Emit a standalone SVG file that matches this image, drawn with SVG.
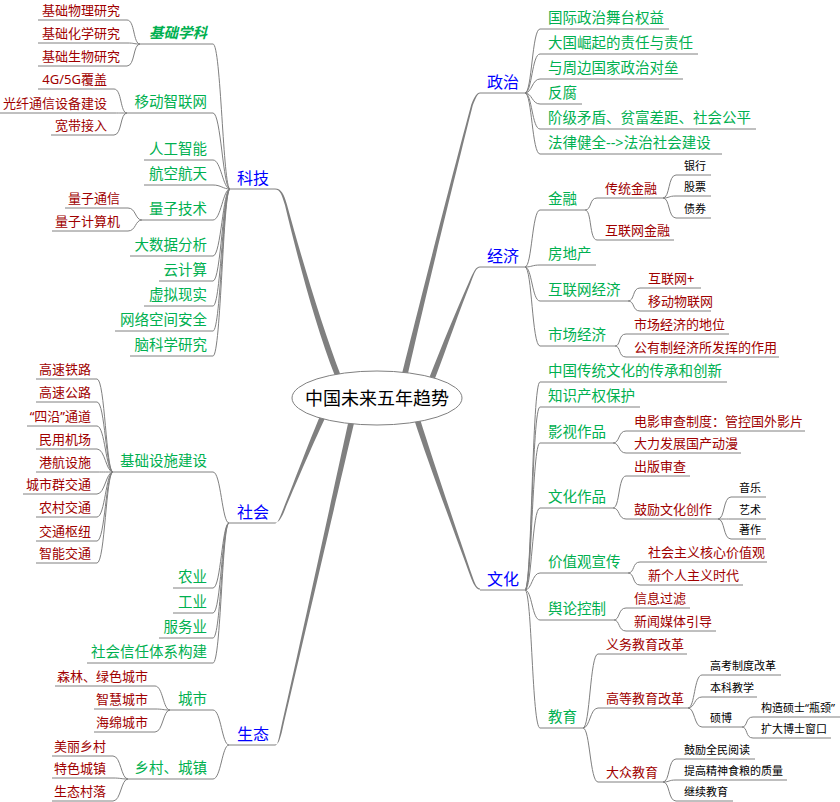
<svg xmlns="http://www.w3.org/2000/svg" width="840" height="802" viewBox="0 0 840 802">
<style>
text{font-family:"Noto Sans","Noto Sans CJK SC",sans-serif}
.c,.u{fill:none;stroke:#808080;stroke-width:1}
.m{fill:#808080}
.t0{font-size:18px;fill:#000;text-anchor:middle}
.t1{font-size:16px;fill:#0000ff}
.t2{font-size:14.5px;fill:#00b050}
.t3{font-size:13px;fill:#a00000}
.t4{font-size:11px;fill:#000}
.e{text-anchor:end}
.bi{font-style:italic;font-weight:bold}
</style>
<rect width="840" height="802" fill="#fff"/>
<g id="connectors">
<path class="m" d="M335,376C316.8,330 298,260 285,205.3C282,195.5 280.5,189.5 275,189.5L275,188.5C281.5,188.5 284,194.5 287,204.7C302,260 323.2,330 341,376Z"/>
<path class="m" d="M401,378C417.8,310 453.5,170 471.2,104.7C474.5,96.5 477,92.5 480,92.5L480,93.5C477.5,93.5 476,97.5 472.8,105.3C456.5,170 422.2,310 407,378Z"/>
<path class="m" d="M428,381C442.2,345 456.5,310 469.2,281.6C473.5,271.5 476,266.5 480,266.5L480,267.5C476.5,267.5 474.5,272.5 470.8,282.4C459.5,310 447.8,345 434,381Z"/>
<path class="m" d="M414,419C427.2,460 453.5,530 471.2,578.4C474.5,586.5 477,589.5 480,589.5L480,588.5C477.5,588.5 475.5,585.5 472.8,577.6C456.5,530 432.8,460 420,419Z"/>
<path class="m" d="M320,416C305.8,450 291,490 282.2,511.6C279.5,518.5 277.5,523.5 275,523.5L275,522.5C278.5,522.5 280.5,519.5 283.8,512.4C293,490 310.2,450 326,416Z"/>
<path class="m" d="M349,419C342.2,450 299,650 280.2,731.7C278.5,739.5 277.5,745.5 275,745.5L275,744.5C278.5,744.5 279.5,740.5 281.8,732.3C301,650 347.8,450 355,419Z"/>
<!-- 政治 -->
<path class="c" d="M525,93C532,93 532,29 540,29"/>
<path class="c" d="M525,93C532,93 532,54 540,54"/>
<path class="c" d="M525,93C532,93 532,79 540,79"/>
<path class="c" d="M525,93C532,93 532,104 540,104"/>
<path class="c" d="M525,93C532,93 532,129 540,129"/>
<path class="c" d="M525,93C532,93 532,154 540,154"/>
<!-- 经济 -->
<path class="c" d="M525,267C532,267 532,210 540,210"/>
<path class="c" d="M525,267C532,267 532,265 540,265"/>
<path class="c" d="M525,267C532,267 532,301 540,301"/>
<path class="c" d="M525,267C532,267 532,346 540,346"/>
<path class="c" d="M585,210C592,210 589,198 597,198"/>
<path class="c" d="M585,210C592,210 589,240 597,240"/>
<path class="c" d="M663,198C670,198 668,175 676,175"/>
<path class="c" d="M663,198C670,198 668,196 676,196"/>
<path class="c" d="M663,198C670,198 668,218 676,218"/>
<path class="c" d="M628,301C635,301 632,288 640,288"/>
<path class="c" d="M628,301C635,301 632,311 640,311"/>
<path class="c" d="M615,346C621,346 618,334 626,334"/>
<path class="c" d="M615,346C621,346 618,357 626,357"/>
<!-- 文化 -->
<path class="c" d="M525,590C532,590 532,382 540,382"/>
<path class="c" d="M525,590C532,590 532,407 540,407"/>
<path class="c" d="M525,590C532,590 532,443 540,443"/>
<path class="c" d="M525,590C532,590 532,508 540,508"/>
<path class="c" d="M525,590C532,590 532,573 540,573"/>
<path class="c" d="M525,590C532,590 532,620 540,620"/>
<path class="c" d="M525,590C532,590 532,728 540,728"/>
<path class="c" d="M613,443C620,443 618,431 626,431"/>
<path class="c" d="M613,443C620,443 618,453 626,453"/>
<path class="c" d="M613,508C620,508 618,476 626,476"/>
<path class="c" d="M613,508C620,508 618,519 626,519"/>
<path class="c" d="M718,519C725,519 723,497 731,497"/>
<path class="c" d="M718,519C725,519 723,519 731,519"/>
<path class="c" d="M718,519C725,519 723,539 731,539"/>
<path class="c" d="M628,573C635,573 632,562 640,562"/>
<path class="c" d="M628,573C635,573 632,585 640,585"/>
<path class="c" d="M614,620C620,620 618,608 626,608"/>
<path class="c" d="M614,620C620,620 618,631 626,631"/>
<path class="c" d="M583,728C590,728 590,654 598,654"/>
<path class="c" d="M583,728C590,728 590,708 598,708"/>
<path class="c" d="M583,728C590,728 590,782 598,782"/>
<path class="c" d="M688,708C695,708 694,675 702,675"/>
<path class="c" d="M688,708C695,708 694,697 702,697"/>
<path class="c" d="M688,708C695,708 694,727 702,727"/>
<path class="c" d="M742,727C748,727 745,717 753,717"/>
<path class="c" d="M742,727C748,727 745,738 753,738"/>
<path class="c" d="M663,782C670,782 668,759 676,759"/>
<path class="c" d="M663,782C670,782 668,780 676,780"/>
<path class="c" d="M663,782C670,782 668,801 676,801"/>
<!-- 科技 -->
<path class="c" d="M230,189C223,189 221,44 213,44"/>
<path class="c" d="M230,189C223,189 221,113 213,113"/>
<path class="c" d="M230,189C223,189 221,160 213,160"/>
<path class="c" d="M230,189C223,189 221,185 213,185"/>
<path class="c" d="M230,189C223,189 221,220 213,220"/>
<path class="c" d="M230,189C223,189 221,256 213,256"/>
<path class="c" d="M230,189C223,189 221,281 213,281"/>
<path class="c" d="M230,189C223,189 221,306 213,306"/>
<path class="c" d="M230,189C223,189 221,331 213,331"/>
<path class="c" d="M230,189C223,189 221,356 213,356"/>
<path class="c" d="M140,44C133,44 135,20 127,20"/>
<path class="c" d="M140,44C133,44 135,43 127,43"/>
<path class="c" d="M140,44C133,44 135,66 127,66"/>
<path class="c" d="M127,113C120,113 122,89 114,89"/>
<path class="c" d="M127,113C120,113 122,113 114,113"/>
<path class="c" d="M127,113C120,113 122,135 114,135"/>
<path class="c" d="M142,220C135,220 136,208 128,208"/>
<path class="c" d="M142,220C135,220 136,231 128,231"/>
<!-- 社会 -->
<path class="c" d="M229,523C222,523 221,472 213,472"/>
<path class="c" d="M229,523C222,523 221,588 213,588"/>
<path class="c" d="M229,523C222,523 221,613 213,613"/>
<path class="c" d="M229,523C222,523 221,638 213,638"/>
<path class="c" d="M229,523C222,523 221,663 213,663"/>
<path class="c" d="M113,472C106,472 105,379 97,379"/>
<path class="c" d="M113,472C106,472 105,402 97,402"/>
<path class="c" d="M113,472C106,472 105,426 97,426"/>
<path class="c" d="M113,472C106,472 105,449 97,449"/>
<path class="c" d="M113,472C106,472 105,472 97,472"/>
<path class="c" d="M113,472C106,472 105,494 97,494"/>
<path class="c" d="M113,472C106,472 105,517 97,517"/>
<path class="c" d="M113,472C106,472 105,541 97,541"/>
<path class="c" d="M113,472C106,472 105,563 97,563"/>
<!-- 生态 -->
<path class="c" d="M229,745C222,745 221,710 213,710"/>
<path class="c" d="M229,745C222,745 221,779 213,779"/>
<path class="c" d="M170,710C163,710 163,686 155,686"/>
<path class="c" d="M170,710C163,710 163,709 155,709"/>
<path class="c" d="M170,710C163,710 163,732 155,732"/>
<path class="c" d="M128,779C121,779 121,756 113,756"/>
<path class="c" d="M128,779C121,779 121,778 113,778"/>
<path class="c" d="M128,779C121,779 121,801 113,801"/>
</g>
<g id="root"><ellipse cx="377" cy="398" rx="85" ry="27" fill="#fff" stroke="#808080"/><text class="t0" x="377" y="405">中国未来五年趋势</text></g>
<!-- main -->
<g id="keji"><path class="u" d="M230,189H275"/><text class="t1" x="237" y="184">科技</text></g>
<g id="shehui"><path class="u" d="M229,523H275"/><text class="t1" x="237" y="518">社会</text></g>
<g id="shengtai"><path class="u" d="M229,745H275"/><text class="t1" x="237" y="740">生态</text></g>
<g id="zhengzhi"><path class="u" d="M480,93H525"/><text class="t1" x="487" y="88">政治</text></g>
<g id="jingji"><path class="u" d="M480,267H525"/><text class="t1" x="487" y="262">经济</text></g>
<g id="wenhua"><path class="u" d="M480,590H525"/><text class="t1" x="487" y="585">文化</text></g>
<!-- 政治 children -->
<g id="zz1"><path class="u" d="M540,29H669"/><text class="t2" x="548" y="23">国际政治舞台权益</text></g>
<g id="zz2"><path class="u" d="M540,54H698"/><text class="t2" x="548" y="48">大国崛起的责任与责任</text></g>
<g id="zz3"><path class="u" d="M540,79H683"/><text class="t2" x="548" y="73">与周边国家政治对垒</text></g>
<g id="zz4"><path class="u" d="M540,104H582"/><text class="t2" x="548" y="98">反腐</text></g>
<g id="zz5"><path class="u" d="M540,129H756"/><text class="t2" x="548" y="123">阶级矛盾、贫富差距、社会公平</text></g>
<g id="zz6"><path class="u" d="M540,154H722"/><text class="t2" x="548" y="148">法律健全--&gt;法治社会建设</text></g>
<!-- 经济 children -->
<g id="jj1"><path class="u" d="M540,210H585"/><text class="t2" x="548" y="204">金融</text></g>
<g id="jj11"><path class="u" d="M597,198H663"/><text class="t3" x="605" y="193">传统金融</text></g>
<g id="jj111"><path class="u" d="M676,175H711"/><text class="t4" x="684" y="170">银行</text></g>
<g id="jj112"><path class="u" d="M676,196H711"/><text class="t4" x="684" y="191">股票</text></g>
<g id="jj113"><path class="u" d="M676,218H711"/><text class="t4" x="684" y="213">债券</text></g>
<g id="jj12"><path class="u" d="M597,240H674"/><text class="t3" x="605" y="235">互联网金融</text></g>
<g id="jj2"><path class="u" d="M540,265H596"/><text class="t2" x="548" y="259">房地产</text></g>
<g id="jj3"><path class="u" d="M540,301H628"/><text class="t2" x="548" y="295">互联网经济</text></g>
<g id="jj31"><path class="u" d="M640,288H701"/><text class="t3" x="648" y="283">互联网+</text></g>
<g id="jj32"><path class="u" d="M640,311H711"/><text class="t3" x="648" y="306">移动物联网</text></g>
<g id="jj4"><path class="u" d="M540,346H615"/><text class="t2" x="548" y="340">市场经济</text></g>
<g id="jj41"><path class="u" d="M626,334H729"/><text class="t3" x="634" y="329">市场经济的地位</text></g>
<g id="jj42"><path class="u" d="M626,357H779"/><text class="t3" x="634" y="352">公有制经济所发挥的作用</text></g>
<!-- 文化 children -->
<g id="wh1"><path class="u" d="M540,382H727"/><text class="t2" x="548" y="376">中国传统文化的传承和创新</text></g>
<g id="wh2"><path class="u" d="M540,407H640"/><text class="t2" x="548" y="401">知识产权保护</text></g>
<g id="wh3"><path class="u" d="M540,443H613"/><text class="t2" x="548" y="437">影视作品</text></g>
<g id="wh31"><path class="u" d="M626,431H805"/><text class="t3" x="634" y="426">电影审查制度：管控国外影片</text></g>
<g id="wh32"><path class="u" d="M626,453H741"/><text class="t3" x="634" y="448">大力发展国产动漫</text></g>
<g id="wh4"><path class="u" d="M540,508H613"/><text class="t2" x="548" y="502">文化作品</text></g>
<g id="wh41"><path class="u" d="M626,476H690"/><text class="t3" x="634" y="471">出版审查</text></g>
<g id="wh42"><path class="u" d="M626,519H718"/><text class="t3" x="634" y="514">鼓励文化创作</text></g>
<g id="wh421"><path class="u" d="M731,497H766"/><text class="t4" x="739" y="492">音乐</text></g>
<g id="wh422"><path class="u" d="M731,519H766"/><text class="t4" x="739" y="514">艺术</text></g>
<g id="wh423"><path class="u" d="M731,539H766"/><text class="t4" x="739" y="534">著作</text></g>
<g id="wh5"><path class="u" d="M540,573H628"/><text class="t2" x="548" y="567">价值观宣传</text></g>
<g id="wh51"><path class="u" d="M640,562H767"/><text class="t3" x="648" y="557">社会主义核心价值观</text></g>
<g id="wh52"><path class="u" d="M640,585H743"/><text class="t3" x="648" y="580">新个人主义时代</text></g>
<g id="wh6"><path class="u" d="M540,620H614"/><text class="t2" x="548" y="614">舆论控制</text></g>
<g id="wh61"><path class="u" d="M626,608H690"/><text class="t3" x="634" y="603">信息过滤</text></g>
<g id="wh62"><path class="u" d="M626,631H716"/><text class="t3" x="634" y="626">新闻媒体引导</text></g>
<g id="wh7"><path class="u" d="M540,728H583"/><text class="t2" x="548" y="722">教育</text></g>
<g id="wh71"><path class="u" d="M598,654H687"/><text class="t3" x="606" y="649">义务教育改革</text></g>
<g id="wh72"><path class="u" d="M598,708H688"/><text class="t3" x="606" y="703">高等教育改革</text></g>
<g id="wh721"><path class="u" d="M702,675H781"/><text class="t4" x="710" y="670">高考制度改革</text></g>
<g id="wh722"><path class="u" d="M702,697H757"/><text class="t4" x="710" y="692">本科教学</text></g>
<g id="wh723"><path class="u" d="M702,727H742"/><text class="t4" x="710" y="722">硕博</text></g>
<g id="wh7231"><path class="u" d="M753,717H840"/><text class="t4" x="761" y="712">构造硕士“瓶颈”</text></g>
<g id="wh7232"><path class="u" d="M753,738H831"/><text class="t4" x="761" y="733">扩大博士窗口</text></g>
<g id="wh73"><path class="u" d="M598,782H663"/><text class="t3" x="606" y="777">大众教育</text></g>
<g id="wh731"><path class="u" d="M676,759H755"/><text class="t4" x="684" y="754">鼓励全民阅读</text></g>
<g id="wh732"><path class="u" d="M676,780H787"/><text class="t4" x="684" y="775">提高精神食粮的质量</text></g>
<g id="wh733"><path class="u" d="M676,801H733"/><text class="t4" x="684" y="796">继续教育</text></g>
<!-- 科技 children -->
<g id="kj1"><path class="u" d="M213,44H140"/><text class="t2 e bi" x="207" y="38">基础学科</text></g>
<g id="kj11"><path class="u" d="M127,20H38"/><text class="t3 e" x="120" y="15">基础物理研究</text></g>
<g id="kj12"><path class="u" d="M127,43H38"/><text class="t3 e" x="120" y="38">基础化学研究</text></g>
<g id="kj13"><path class="u" d="M127,66H38"/><text class="t3 e" x="120" y="61">基础生物研究</text></g>
<g id="kj2"><path class="u" d="M213,113H127"/><text class="t2 e" x="207" y="107">移动智联网</text></g>
<g id="kj21"><path class="u" d="M114,89H38"/><text class="t3 e" x="107" y="84">4G/5G覆盖</text></g>
<g id="kj22"><path class="u" d="M114,113H0"/><text class="t3 e" x="107" y="108">光纤通信设备建设</text></g>
<g id="kj23"><path class="u" d="M114,135H51"/><text class="t3 e" x="107" y="130">宽带接入</text></g>
<g id="kj3"><path class="u" d="M213,160H144"/><text class="t2 e" x="207" y="154">人工智能</text></g>
<g id="kj4"><path class="u" d="M213,185H144"/><text class="t2 e" x="207" y="179">航空航天</text></g>
<g id="kj5"><path class="u" d="M213,220H142"/><text class="t2 e" x="207" y="214">量子技术</text></g>
<g id="kj51"><path class="u" d="M128,208H65"/><text class="t3 e" x="120" y="203">量子通信</text></g>
<g id="kj52"><path class="u" d="M128,231H52"/><text class="t3 e" x="120" y="226">量子计算机</text></g>
<g id="kj6"><path class="u" d="M213,256H130"/><text class="t2 e" x="207" y="250">大数据分析</text></g>
<g id="kj7"><path class="u" d="M213,281H159"/><text class="t2 e" x="207" y="275">云计算</text></g>
<g id="kj8"><path class="u" d="M213,306H144"/><text class="t2 e" x="207" y="300">虚拟现实</text></g>
<g id="kj9"><path class="u" d="M213,331H115"/><text class="t2 e" x="207" y="325">网络空间安全</text></g>
<g id="kj10"><path class="u" d="M213,356H130"/><text class="t2 e" x="207" y="350">脑科学研究</text></g>
<!-- 社会 children -->
<g id="sh1"><path class="u" d="M213,472H113"/><text class="t2 e" x="207" y="466">基础设施建设</text></g>
<g id="sh11"><path class="u" d="M97,379H36"/><text class="t3 e" x="91" y="374">高速铁路</text></g>
<g id="sh12"><path class="u" d="M97,402H36"/><text class="t3 e" x="91" y="397">高速公路</text></g>
<g id="sh13"><path class="u" d="M97,426H27"/><text class="t3 e" x="91" y="421">“四沿”通道</text></g>
<g id="sh14"><path class="u" d="M97,449H36"/><text class="t3 e" x="91" y="444">民用机场</text></g>
<g id="sh15"><path class="u" d="M97,472H36"/><text class="t3 e" x="91" y="467">港航设施</text></g>
<g id="sh16"><path class="u" d="M97,494H23"/><text class="t3 e" x="91" y="489">城市群交通</text></g>
<g id="sh17"><path class="u" d="M97,517H36"/><text class="t3 e" x="91" y="512">农村交通</text></g>
<g id="sh18"><path class="u" d="M97,541H36"/><text class="t3 e" x="91" y="536">交通枢纽</text></g>
<g id="sh19"><path class="u" d="M97,563H36"/><text class="t3 e" x="91" y="558">智能交通</text></g>
<g id="sh2"><path class="u" d="M213,588H173"/><text class="t2 e" x="207" y="582">农业</text></g>
<g id="sh3"><path class="u" d="M213,613H173"/><text class="t2 e" x="207" y="607">工业</text></g>
<g id="sh4"><path class="u" d="M213,638H159"/><text class="t2 e" x="207" y="632">服务业</text></g>
<g id="sh5"><path class="u" d="M213,663H87"/><text class="t2 e" x="207" y="657">社会信任体系构建</text></g>
<!-- 生态 children -->
<g id="st1"><path class="u" d="M213,710H170"/><text class="t2 e" x="207" y="704">城市</text></g>
<g id="st11"><path class="u" d="M155,686H55"/><text class="t3 e" x="148" y="681">森林、绿色城市</text></g>
<g id="st12"><path class="u" d="M155,709H94"/><text class="t3 e" x="148" y="704">智慧城市</text></g>
<g id="st13"><path class="u" d="M155,732H94"/><text class="t3 e" x="148" y="727">海绵城市</text></g>
<g id="st2"><path class="u" d="M213,779H128"/><text class="t2 e" x="207" y="773">乡村、城镇</text></g>
<g id="st21"><path class="u" d="M113,756H52"/><text class="t3 e" x="106" y="751">美丽乡村</text></g>
<g id="st22"><path class="u" d="M113,778H52"/><text class="t3 e" x="106" y="773">特色城镇</text></g>
<g id="st23"><path class="u" d="M113,801H52"/><text class="t3 e" x="106" y="796">生态村落</text></g>
</svg>
